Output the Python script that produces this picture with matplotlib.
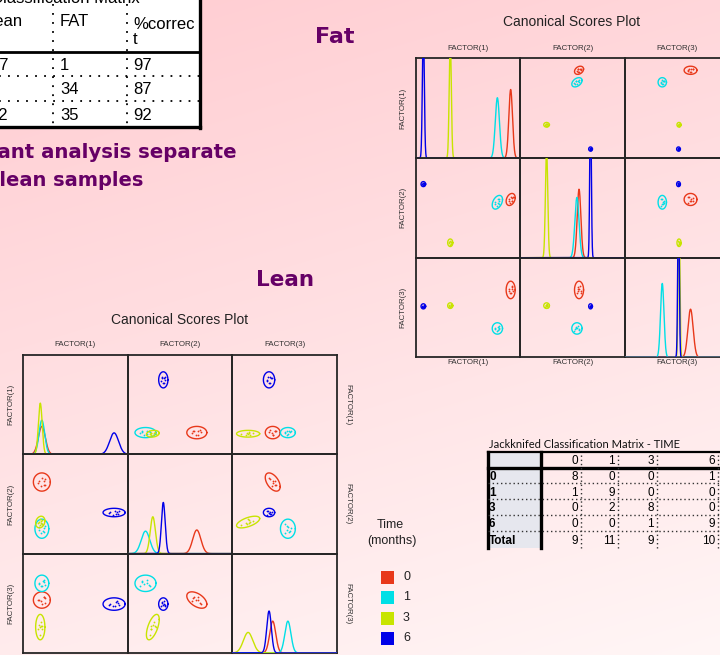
import numpy as np
import matplotlib
matplotlib.use('Agg')
import matplotlib.pyplot as plt
from matplotlib.patches import Rectangle

W, H = 720, 655

# ---------------- data ----------------
groups = ['0', '1', '3', '6']
group_colors = ['#e8381a', '#00dfe6', '#c8e400', '#0000e8']
factor_labels = ['FACTOR(1)', 'FACTOR(2)', 'FACTOR(3)']

# Fat samples: canonical score group means (F1, F2, F3), group SDs, correlations (r12, r13, r23)
fat_means = [[4.07, 0.6, 1.25], [2.8, 0.4, -1.45], [-1.7, -2.5, 0.15], [-4.27, 1.7, 0.1]]
fat_sds = [[0.176, 0.176, 0.25], [0.2, 0.2, 0.163], [0.1, 0.11, 0.08], [0.09, 0.073, 0.073]]
fat_corrs = [[0.3, 0.0, 0.0], [0.4, 0.0, 0.0], [0.0, 0.0, 0.0], [0.0, 0.0, 0.0]]
fat_xlims = [(-5, 5), (-5, 5), (-5, 5)]
fat_ylims = [(-5.22, 5.34), (-3.57, 3.57), (-3.48, 3.51)]
fat_density_top = 3.3

# Lean samples
lean_means = [[-3.2, 1.6, -1.15], [-3.2, -3.3, 0.3], [-3.35, -2.6, -3.5], [3.7, -1.6, -1.5]]
lean_sds = [[0.33, 0.39, 0.29], [0.27, 0.41, 0.29], [0.18, 0.25, 0.45], [0.43, 0.18, 0.22]]
lean_corrs = [[0.0, 0.0, -0.5], [0.0, 0.0, 0.0], [0.2, 0.0, 0.6], [0.0, 0.0, 0.0]]
lean_xlims = [(-5, 5), (-5, 5), (-5, 5)]
lean_ylims = [(-6.04, 6.95), (-5.91, 4.51), (-5.74, 2.88)]
lean_density_top = 4.3

# standardized scores of the individual samples within each group
sample_z = np.array([[-0.9, 0.4, 0.2], [0.5, -0.7, 0.8], [1.0, 0.8, -0.4],
                     [-0.3, -1.2, -0.9], [0.6, 0.3, 1.1], [-1.1, -0.3, -0.2],
                     [0.8, -0.9, 0.3], [0.1, 1.1, -0.8]])

# fat/lean classification matrix (partially visible)
fl_header = ['Lean', 'FAT', '%correc\nt']
fl_col1 = ['37', '5', '42']
fl_col2 = ['1', '34', '35']
fl_col3 = ['97', '87', '92']

# jackknifed classification matrix - TIME
jk_cols = ['0', '1', '3', '6']
jk_rows = ['0', '1', '3', '6', 'Total']
jk_values = [[8, 0, 0, 1], [1, 9, 0, 0], [0, 2, 8, 0], [0, 0, 1, 9], [9, 11, 9, 10]]

SANS = 'Liberation Sans'
PURPLE = '#660066'

fig = plt.figure(figsize=(W / 100, H / 100), dpi=100)

# ---------------- background ----------------
bg = fig.add_axes([0, 0, 1, 1], zorder=-10)
yy, xx = np.mgrid[0:H, 0:W]
t = 0.75 * yy / H + 0.25 * xx / W
top = np.array([255, 204, 209]) / 255
bot = np.array([255, 246, 246]) / 255
img = top[None, None, :] + (bot - top)[None, None, :] * t[:, :, None]
bg.imshow(img, aspect='auto', extent=[0, W, H, 0])
bg.set_xlim(0, W); bg.set_ylim(H, 0)
bg.axis('off')


def draw_splom(left, top_px, pw, ph, means, sds, corrs, xlims, ylims, dtop):
    for i in range(3):
        for j in range(3):
            ax = fig.add_axes([(left + j * pw) / W, 1 - (top_px + (i + 1) * ph) / H, pw / W, ph / H])
            ax.set_facecolor('none')
            ax.set_xticks([]); ax.set_yticks([])
            for s in ax.spines.values():
                s.set_color('#262626'); s.set_linewidth(1.3)
            ax.set_xlim(xlims[j])
            if i == j:
                xs = np.linspace(xlims[j][0], xlims[j][1], 800)
                for g in range(4):
                    m = means[g][j]; sd = sds[g][j]
                    pdf = np.exp(-0.5 * ((xs - m) / sd) ** 2) / (sd * np.sqrt(2 * np.pi))
                    ax.plot(xs, pdf, color=group_colors[g], lw=1.0, zorder=3)
                ax.set_ylim(0, dtop)
            else:
                ax.set_ylim(ylims[i])
                for g in range(4):
                    sd = np.array(sds[g])
                    r12, r13, r23 = corrs[g]
                    R = np.array([[1, r12, r13], [r12, 1, r23], [r13, r23, 1]])
                    cov = R * np.outer(sd, sd)
                    L = np.linalg.cholesky(cov)
                    pts = np.array(means[g]) + sample_z @ L.T
                    ax.plot(pts[:, j], pts[:, i], 'o', ms=1.3, mew=0, color=group_colors[g])
                    sub = cov[np.ix_([j, i], [j, i])]
                    Ls = np.linalg.cholesky(sub)
                    th = np.linspace(0, 2 * np.pi, 120)
                    e = Ls @ (2.45 * np.vstack([np.cos(th), np.sin(th)]))
                    ax.plot(e[0] + means[g][j], e[1] + means[g][i], color=group_colors[g], lw=1.0)


# Fat splom
fat_left, fat_top, fat_pw, fat_ph = 415.7, 58.3, 104.7, 99.7
draw_splom(fat_left, fat_top, fat_pw, fat_ph, fat_means, fat_sds, fat_corrs,
           fat_xlims, fat_ylims, fat_density_top)
# Lean splom
lean_left, lean_top, lean_pw, lean_ph = 23, 355, 104.7, 99.3
draw_splom(lean_left, lean_top, lean_pw, lean_ph, lean_means, lean_sds, lean_corrs,
           lean_xlims, lean_ylims, lean_density_top)

# ---------------- overlay (pixel coordinates) ----------------
ov = fig.add_axes([0, 0, 1, 1], zorder=5)
ov.set_xlim(0, W); ov.set_ylim(H, 0)
ov.axis('off')

# splom labels
for k, lab in enumerate(factor_labels):
    cx = fat_left + (k + 0.5) * fat_pw
    ov.text(cx, 48, lab, ha='center', va='center', fontsize=5.7, family=SANS, color='#333333')
    ov.text(cx, 363, lab, ha='center', va='center', fontsize=5.7, family=SANS, color='#333333')
    cy = fat_top + (k + 0.5) * fat_ph
    ov.text(403, cy, lab, ha='center', va='center', rotation=90, fontsize=5.7, family=SANS, color='#333333')
    cx = lean_left + (k + 0.5) * lean_pw
    ov.text(cx, 345, lab, ha='center', va='center', fontsize=5.7, family=SANS, color='#333333')
    cy = lean_top + (k + 0.5) * lean_ph
    ov.text(11, cy, lab, ha='center', va='center', rotation=90, fontsize=5.7, family=SANS, color='#333333')
    ov.text(348, cy, lab, ha='center', va='center', rotation=270, fontsize=5.7, family=SANS, color='#333333')
ov.text(572, 22, 'Canonical Scores Plot', ha='center', va='center', fontsize=10, family=SANS, color='#222222')
ov.text(180, 320, 'Canonical Scores Plot', ha='center', va='center', fontsize=10, family=SANS, color='#222222')

# legend
ov.text(390, 525, 'Time', ha='center', va='center', fontsize=9, family=SANS, color='#222222')
ov.text(392, 541, '(months)', ha='center', va='center', fontsize=9, family=SANS, color='#222222')
leg_y = [577, 597, 618, 638]
for g in range(4):
    ov.add_patch(Rectangle((381, leg_y[g] - 6.5), 13, 13, fc=group_colors[g], ec='none'))
    ov.text(403, leg_y[g], groups[g], ha='left', va='center', fontsize=9, family=SANS, color='#222222')

# purple slide texts
ov.text(335, 37, 'Fat', ha='center', va='center', fontsize=16, fontweight='bold', color=PURPLE)
ov.text(285, 280, 'Lean', ha='center', va='center', fontsize=15.5, fontweight='bold', color=PURPLE)
ov.text(237, 152, 'Discriminant analysis separate', ha='right', va='center', fontsize=14.2,
        fontweight='bold', color=PURPLE)
ov.text(143, 181, 'fat and lean samples', ha='right', va='center', fontsize=14.0,
        fontweight='bold', color=PURPLE)

# top-left classification table
ov.add_patch(Rectangle((-5, -5), 205, 132, fc='white', ec='none', zorder=0))
ov.text(140, 3.0, 'Classification Matrix', ha='right', va='baseline', fontsize=12, family=SANS)
ov.plot([200, 200], [-5, 127.5], color='black', lw=2.4, solid_capstyle='projecting')
ov.plot([-5, 200], [127, 127], color='black', lw=2.4)
ov.plot([-5, 200], [52, 52], color='black', lw=2.0)
for yl in [76, 101]:
    ov.plot([-5, 200], [yl, yl], color='black', lw=1.3, ls=(0, (1, 4)))
for xl in [53, 127]:
    ov.plot([xl, xl], [4, 127], color='black', lw=1.3, ls=(0, (1, 4)))
ov.text(22.5, 22, fl_header[0], ha='right', va='center', fontsize=12, family=SANS)
ov.text(60, 22, fl_header[1], ha='left', va='center', fontsize=12, family=SANS)
ov.text(133, 32, fl_header[2], ha='left', va='center', fontsize=12, family=SANS, linespacing=0.95)
row_y = [65, 90, 115]
for r in range(3):
    ov.text(-10, row_y[r], fl_col1[r], ha='left', va='center', fontsize=12, family=SANS)
    ov.text(60, row_y[r], fl_col2[r], ha='left', va='center', fontsize=12, family=SANS)
    ov.text(133, row_y[r], fl_col3[r], ha='left', va='center', fontsize=12, family=SANS)

# jackknifed table
ov.text(489, 444, 'Jackknifed Classification Matrix - TIME', ha='left', va='center',
        fontsize=8, family='Lato', color='#111111')
ov.add_patch(Rectangle((488, 452), 53, 96, fc='#e6e7ee', ec='none'))
ov.plot([488, 730], [452, 452], color='black', lw=1.6)
ov.plot([488, 730], [468, 468], color='black', lw=2.4)
ov.plot([488, 488], [452, 548], color='black', lw=2.4)
ov.plot([541, 541], [452, 548], color='black', lw=2.4)
for yl in [483, 499, 515, 531]:
    ov.plot([488, 730], [yl, yl], color='#333333', lw=1.0, ls=(0, (1, 2)))
col_x = [578, 615, 654, 715]
for xl in col_x:
    ov.plot([xl + 3, xl + 3], [455, 548], color='#333333', lw=1.0, ls=(0, (1, 2)))
hdr_y = 461
row_ys = [476.5, 492.5, 508, 524, 541]
for c in range(4):
    ov.text(col_x[c], hdr_y, jk_cols[c], ha='right', va='center', fontsize=8.5, family=SANS)
for r in range(5):
    ov.text(489, row_ys[r], jk_rows[r], ha='left', va='center', fontsize=8.5, family=SANS,
            fontweight='bold')
    for c in range(4):
        ov.text(col_x[c], row_ys[r], str(jk_values[r][c]), ha='right', va='center',
                fontsize=8.5, family=SANS)

fig.savefig('out.png', dpi=100)
